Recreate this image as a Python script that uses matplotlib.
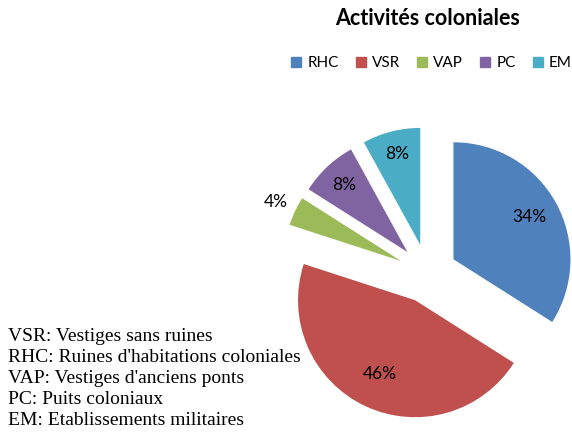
import numpy as np
import matplotlib
matplotlib.use("Agg")
import matplotlib.pyplot as plt

categories = ["RHC", "VSR", "VAP", "PC", "EM"]
values = [34, 46, 4, 8, 8]
pct_labels = ["34%", "46%", "4%", "8%", "8%"]
colors = ["#4F81BD", "#C0504D", "#9BBB59", "#8064A2", "#4BACC6"]
notes = [
    "VSR: Vestiges sans ruines",
    "RHC: Ruines d'habitations coloniales",
    "VAP: Vestiges d'anciens ponts",
    "PC: Puits coloniaux",
    "EM: Etablissements militaires",
]
title = "Activités coloniales"

W, H = 572, 433
fig = plt.figure(figsize=(W / 100, H / 100), dpi=100)
ax = fig.add_axes([0, 0, 1, 1])

radius = 117
center = (427.6, H - 273.5)
explode = [29.5] * len(values)
wedges, _ = ax.pie(values, colors=colors, startangle=90, counterclock=False,
                   radius=radius, center=center, explode=explode,
                   wedgeprops=dict(linewidth=0))
ax.set_xlim(0, W)
ax.set_ylim(0, H)
ax.set_aspect("equal")
ax.axis("off")

label_dist = [0.745, 0.70, 1.18, 0.79, 0.80]
for w, lab, d in zip(wedges, pct_labels, label_dist):
    ang = np.deg2rad((w.theta1 + w.theta2) / 2)
    cx, cy = w.center
    ax.text(cx + d * radius * np.cos(ang), cy + d * radius * np.sin(ang), lab,
            ha="center", va="center", fontsize=12.5, family="Lato", color="black")

fig.text(428 / W, 1 - 18.5 / H, title, ha="center", va="center",
         fontsize=15.5, fontweight="bold", family="Lato")

handles = [plt.Rectangle((0, 0), 1, 1, color=c) for c in colors]
fig.legend(handles, categories, loc="center", bbox_to_anchor=(431.5 / W, 1 - 63.3 / H),
           ncol=5, frameon=False, handlelength=0.65, handleheight=0.65,
           handletextpad=0.4, columnspacing=1.12, borderpad=0, borderaxespad=0,
           prop=dict(family="Lato", size=11))

for i, line in enumerate(notes):
    fig.text(8 / W, 1 - (341 + 21 * i) / H, line, ha="left", va="baseline",
             fontsize=14, family="Liberation Serif")

fig.savefig("out.png", dpi=100)
